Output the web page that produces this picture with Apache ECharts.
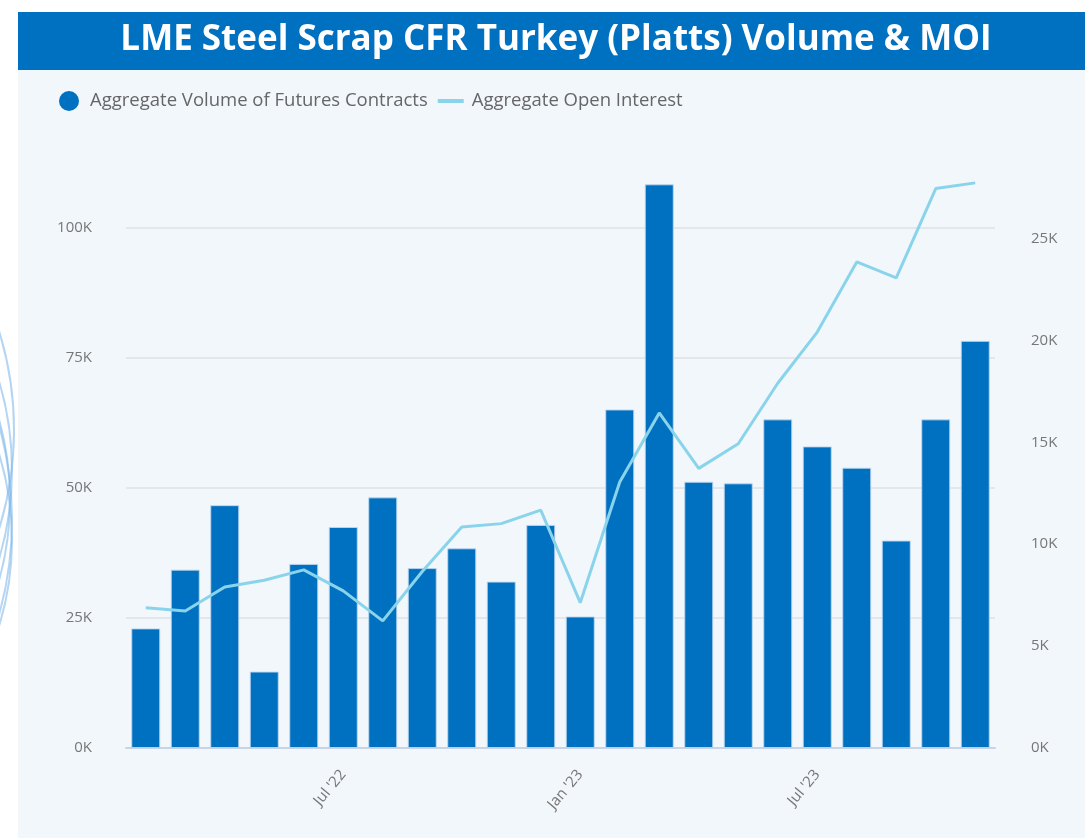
<!DOCTYPE html>
<html>
<head>
<meta charset="utf-8">
<script src="https://cdn.jsdelivr.net/npm/echarts@6/dist/echarts.min.js"></script>
<style>
  html, body { margin: 0; padding: 0; background: #fff; }
  #chart { width: 1085px; height: 838px; }
</style>
</head>
<body>
<div id="chart"></div>
<script>
// months, Feb '22 .. Nov '23
const months = [
  "Feb '22", "Mar '22", "Apr '22", "May '22", "Jun '22", "Jul '22", "Aug '22",
  "Sep '22", "Oct '22", "Nov '22", "Dec '22", "Jan '23", "Feb '23", "Mar '23",
  "Apr '23", "May '23", "Jun '23", "Jul '23", "Aug '23", "Sep '23", "Oct '23", "Nov '23",
];
// aggregate volume of futures contracts (lots)
const volume = [
  23000, 34300, 46700, 14700, 35400, 42500, 48200, 34600, 38400, 32000, 42900,
  25300, 65100, 108400, 51200, 50900, 63200, 58000, 53900, 39900, 63200, 78300,
];
// aggregate open interest (lots)
const openInterest = [
  6880, 6720, 7900, 8230, 8740, 7710, 6240, 8660, 10850, 11010, 11670,
  7130, 13050, 16440, 13720, 14930, 17900, 20410, 23850, 23070, 27450, 27730,
];
const shownTicks = ["Jul '22", "Jan '23", "Jul '23"];

const fmtK = (v) => Math.round(v / 1000) + "K";
const FONT = "'Open Sans', 'Noto Sans', sans-serif";

const chart = echarts.init(document.getElementById("chart"));

// faint decorative arcs behind the card on the left
const arcs = [];
[[-300, 470, 312], [-290, 500, 300], [-320, 430, 334], [-280, 540, 292], [-340, 520, 352]].forEach(([cx, cy, r]) => {
  arcs.push({
    type: "circle",
    shape: { cx, cy, r },
    style: { fill: "none", stroke: "rgba(130,185,235,0.6)", lineWidth: 2 },
    z: -20,
    silent: true,
  });
});

chart.setOption({
  backgroundColor: "#ffffff",
  textStyle: { fontFamily: FONT },
  graphic: [
    ...arcs,
    {
      type: "rect",
      shape: { x: 18, y: 70, width: 1067, height: 768 },
      style: { fill: "#f2f7fc" },
      z: -10,
      silent: true,
    },
    {
      type: "rect",
      shape: { x: 18, y: 12, width: 1067, height: 58 },
      style: { fill: "#0070c0" },
      z: -10,
      silent: true,
    },
    {
      type: "text",
      x: 556,
      y: 40,
      style: {
        text: "LME Steel Scrap CFR Turkey (Platts) Volume & MOI",
        fill: "#ffffff",
        font: "bold 35px " + FONT,
        align: "center",
        verticalAlign: "middle",
      },
      z: 10,
      silent: true,
    },
  ],
  legend: {
    left: 54,
    top: 86,
    itemWidth: 26,
    itemHeight: 20,
    itemGap: 10,
    textStyle: { color: "#666", fontSize: 18.5, fontFamily: FONT, padding: [0, 0, 0, 3] },
    data: [
      {
        name: "Aggregate Volume of Futures Contracts",
        icon: "circle",
        itemStyle: { color: "#0070c0", borderWidth: 0 },
      },
      {
        name: "Aggregate Open Interest",
        icon: "path://M0,0 L26,0 L26,4 L0,4 Z",
        itemStyle: { color: "#8ad4eb", borderWidth: 0 },
      },
    ],
  },
  grid: { left: 126, right: 90, top: 165.6, bottom: 90, containLabel: false },
  xAxis: {
    type: "category",
    data: months,
    axisLine: { lineStyle: { color: "#c9d3e6", width: 2 } },
    axisTick: {
      alignWithLabel: true,
      length: 18,
      lineStyle: { color: "#c9d3e6", width: 1.5 },
      interval: (i, v) => shownTicks.includes(v),
    },
    axisLabel: {
      interval: (i, v) => shownTicks.includes(v),
      rotate: 50,
      margin: 24,
      color: "#777",
      fontSize: 15,
      fontFamily: FONT,
    },
  },
  yAxis: [
    {
      type: "value",
      min: 0,
      max: 112000,
      interval: 25000,
      axisLine: { show: false },
      axisTick: { show: false },
      axisLabel: { formatter: fmtK, color: "#777", fontSize: 15, margin: 34, showMaxLabel: false },
      splitLine: { showMaxLine: false, lineStyle: { color: "#e3e6ea", width: 2 } },
    },
    {
      type: "value",
      min: 0,
      max: 28578,
      interval: 5000,
      axisLine: { show: false },
      axisTick: { show: false },
      axisLabel: { formatter: fmtK, color: "#777", fontSize: 15, margin: 36, showMaxLabel: false },
      splitLine: { show: false },
    },
  ],
  series: [
    {
      name: "Aggregate Volume of Futures Contracts",
      type: "bar",
      data: volume,
      barWidth: 29,
      itemStyle: { color: "#0070c0", borderColor: "rgba(190,215,240,0.9)", borderWidth: 1 },
    },
    {
      name: "Aggregate Open Interest",
      type: "line",
      yAxisIndex: 1,
      data: openInterest,
      symbol: "none",
      lineStyle: { color: "#8ad4eb", width: 3 },
      itemStyle: { color: "#8ad4eb" },
      z: 5,
    },
  ],
});
</script>
</body>
</html>
